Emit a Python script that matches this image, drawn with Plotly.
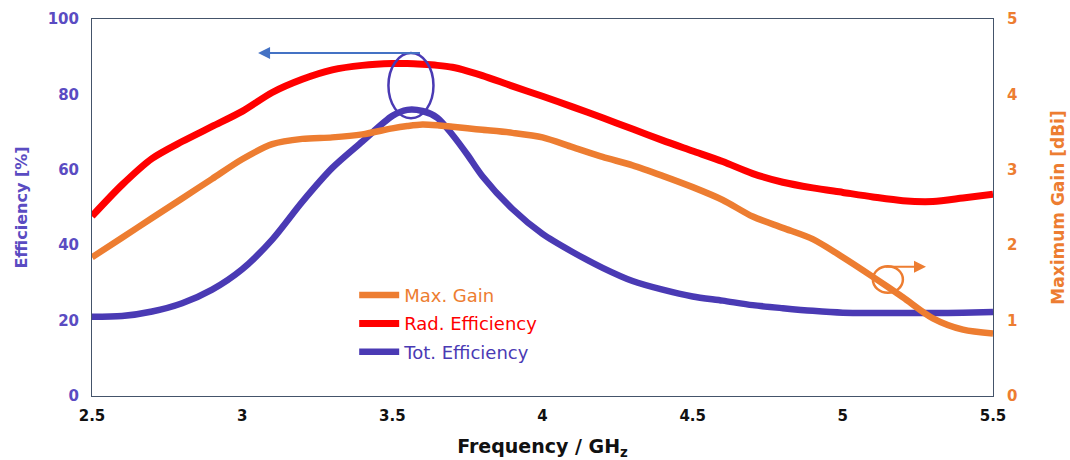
import plotly.graph_objects as go

# Frequency sweep (GHz)
freq = [2.5, 2.6, 2.7, 2.8, 2.9, 3.0, 3.1, 3.2, 3.3, 3.4, 3.5, 3.55, 3.6, 3.65,
        3.7, 3.75, 3.8, 3.9, 4.0, 4.1, 4.2, 4.3, 4.4, 4.5, 4.6, 4.7, 4.8, 4.9,
        5.0, 5.1, 5.2, 5.3, 5.4, 5.5]

# Maximum gain (dBi), right axis
max_gain = [1.84, 2.10, 2.36, 2.62, 2.88, 3.14, 3.34, 3.41, 3.43, 3.47, 3.55, 3.58, 3.60, 3.59,
            3.57, 3.55, 3.53, 3.49, 3.43, 3.30, 3.17, 3.06, 2.92, 2.77, 2.60, 2.38, 2.23, 2.08,
            1.84, 1.58, 1.31, 1.03, 0.88, 0.83]

# Radiation efficiency (%), left axis
rad_eff = [47.7, 56.0, 63.0, 67.5, 71.5, 75.5, 80.5, 84.0, 86.5, 87.7, 88.2, 88.2, 88.0, 87.7,
           87.2, 86.2, 85.0, 82.2, 79.5, 76.7, 73.8, 70.8, 67.8, 65.0, 62.2, 59.0, 56.7, 55.2,
           54.0, 52.8, 51.8, 51.6, 52.5, 53.5]

# Total efficiency (%), left axis
tot_eff = [21.0, 21.2, 22.4, 24.6, 28.2, 33.6, 41.5, 51.5, 60.5, 67.5, 74.3, 75.9, 75.6, 73.8,
           69.3, 64.0, 58.3, 49.6, 43.0, 38.2, 34.0, 30.5, 28.2, 26.4, 25.3, 24.1, 23.3, 22.6,
           22.1, 22.0, 22.0, 22.0, 22.1, 22.3]

x_ticks = [2.5, 3, 3.5, 4, 4.5, 5, 5.5]
eff_ticks = [0, 20, 40, 60, 80, 100]
gain_ticks = [0, 1, 2, 3, 4, 5]

ORANGE = "#ED7D31"
RED = "#FF0000"
PURPLE = "#4A3AB4"
PURPLE_TXT = "#5A4CC2"
ARROW_BLUE = "#4472C4"
FRAME = "#44546A"
FONT = "DejaVu Sans"

fig = go.Figure()

fig.add_trace(go.Scatter(
    x=freq, y=max_gain, yaxis="y2", mode="lines", legendgroup="g1",
    name=f"<span style='color:{ORANGE}'>Max. Gain</span>",
    line=dict(color=ORANGE, width=6.5, shape="spline", smoothing=0.8),
))
fig.add_trace(go.Scatter(
    x=freq, y=rad_eff, mode="lines", legendgroup="g2",
    name=f"<span style='color:{RED}'>Rad. Efficiency</span>",
    line=dict(color=RED, width=7, shape="spline", smoothing=0.8),
))
fig.add_trace(go.Scatter(
    x=freq, y=tot_eff, mode="lines", legendgroup="g3",
    name=f"<span style='color:{PURPLE}'>Tot. Efficiency</span>",
    line=dict(color=PURPLE, width=6.5, shape="spline", smoothing=0.8),
))

# Marker ellipse around the efficiency peak, arrow pointing to the left axis
fig.add_shape(type="circle", xref="x", yref="y",
              x0=3.487, x1=3.637, y0=73.7, y1=91.0,
              line=dict(color=PURPLE, width=2.5))
fig.add_annotation(x=3.053, y=91.0, ax=3.597, ay=91.0, xref="x", yref="y",
                   axref="x", ayref="y", text="", showarrow=True,
                   arrowhead=2, arrowsize=1.2, arrowwidth=2, arrowcolor=ARROW_BLUE)

# Marker circle on the gain curve, arrow pointing to the right axis
fig.add_shape(type="circle", xref="x", yref="y",
              x0=5.1, x1=5.2, y0=27.4, y1=34.4,
              line=dict(color=ORANGE, width=2.5))
fig.add_annotation(x=5.277, y=34.3, ax=5.137, ay=34.3, xref="x", yref="y",
                   axref="x", ayref="y", text="", showarrow=True,
                   arrowhead=2, arrowsize=1.2, arrowwidth=2, arrowcolor=ORANGE)

fig.update_layout(
    width=1070, height=460,
    margin=dict(l=92, r=77, t=19, b=64, autoexpand=False),
    paper_bgcolor="white", plot_bgcolor="white",
    font=dict(family=FONT, size=14),
    showlegend=True,
    legend=dict(x=0.291, y=0.316, xanchor="left", yanchor="top",
                bgcolor="rgba(0,0,0,0)", font=dict(family=FONT, size=18),
                tracegroupgap=2, itemwidth=40),
    xaxis=dict(
        range=[2.5, 5.5], tickvals=x_ticks, ticktext=[str(t) for t in x_ticks],
        automargin=False,
        showgrid=False, zeroline=False, showline=True, linecolor=FRAME, linewidth=1,
        mirror=True, ticks="outside", ticklen=6, tickcolor="rgba(0,0,0,0)",
        tickfont=dict(family=FONT, size=15, color="#111111", weight="bold"),
        title=dict(text="Frequency / GH<sub>z</sub>", standoff=21,
                   font=dict(family=FONT, size=19, color="#111111", weight="bold")),
    ),
    yaxis=dict(
        range=[0, 100], tickvals=eff_ticks, automargin=False,
        showgrid=False, zeroline=False, showline=True, linecolor=FRAME, linewidth=1,
        mirror=True, ticks="outside", ticklen=9, tickcolor="rgba(0,0,0,0)",
        tickfont=dict(family=FONT, size=15, color=PURPLE_TXT, weight="bold"),
        title=dict(text="Efficiency [%]", standoff=16,
                   font=dict(family=FONT, size=16, color=PURPLE_TXT, weight="bold")),
    ),
    yaxis2=dict(
        range=[0, 5], tickvals=gain_ticks, overlaying="y", side="right", automargin=False,
        showgrid=False, zeroline=False, showline=True, linecolor=FRAME, linewidth=1,
        ticks="outside", ticklen=10, tickcolor="rgba(0,0,0,0)",
        tickfont=dict(family=FONT, size=15, color=ORANGE, weight="bold"),
        title=dict(text="Maximum Gain [dBi]", standoff=35,
                   font=dict(family=FONT, size=17, color=ORANGE, weight="bold")),
    ),
)

fig.write_html("out.html")
